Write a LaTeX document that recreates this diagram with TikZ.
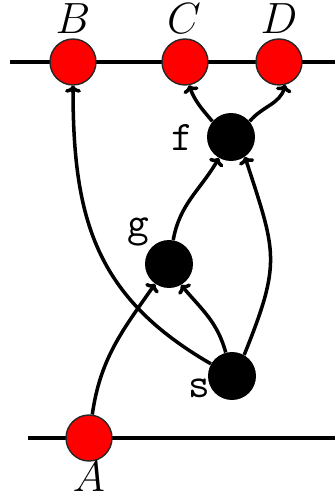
\documentclass[tikz,border=0pt]{standalone}
\usetikzlibrary{arrows.meta}
\begin{document}
\begin{tikzpicture}[x=0.02cm,y=-0.02cm,
  redpt/.style={circle,fill=red,draw=black!85,line width=0.8pt,minimum size=0.92cm,inner sep=0pt},
  blackpt/.style={circle,fill=black,minimum size=0.96cm,inner sep=0pt},
  lbl/.style={font=\fontsize{24}{28}\selectfont,inner sep=0pt},
  conn/.style={line width=2pt,-{To[length=4pt,width=9pt]}},
  wire/.style={line width=2pt}]
\useasboundingbox (0,0) rectangle (335,499);
\coordinate (tl) at (10,62);
\coordinate (tr) at (335,62);
\coordinate (bl) at (28,438);
\coordinate (br) at (335,438);
\draw[wire] (tl) -- (tr);
\draw[wire] (bl) -- (br);
\node[redpt] (B) at (73,62) {};
\node[redpt] (C) at (185,62) {};
\node[redpt] (D) at (279,62) {};
\node[redpt] (A) at (89,438) {};
\node[blackpt] (f) at (231,137) {};
\node[blackpt] (g) at (169,264) {};
\node[blackpt] (s) at (232,376) {};
\node[lbl] (lB) at (73,19) {$B$};
\node[lbl] (lC) at (184,19) {$C$};
\node[lbl] (lD) at (279,19) {$D$};
\node[lbl] (lA) at (89,477) {$A$};
\node[lbl] (lf) at (182,137) {\texttt{f}};
\node[lbl] (lg) at (138,232) {\texttt{g}};
\node[lbl] (ls) at (199,388) {\texttt{s}};
\draw[conn] (A) to[out=82,in=-125] (g);
\draw[conn] (s.150) to[out=150,in=-90,looseness=1.1] (B);
\draw[conn] (s) to[out=105,in=-50] (g.-60);
\draw[conn] (s.60) to[out=68,in=-72,looseness=1.3] (f.-55);
\draw[conn] (g) to[out=80,in=-120] (f.-120);
\draw[conn] (f.140) to[out=130,in=-70] (C.-80);
\draw[conn] (f.40) to[out=50,in=-105] (D.-75);
\end{tikzpicture}
\end{document}
